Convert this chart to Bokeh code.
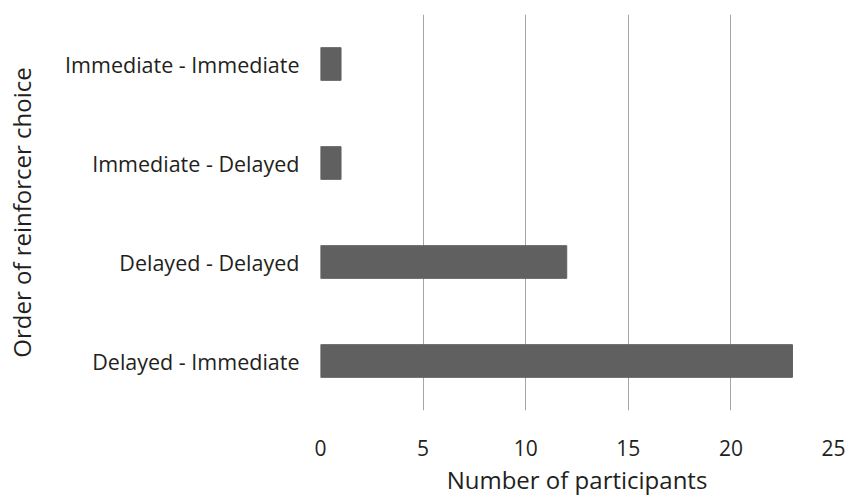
from bokeh.plotting import figure
from bokeh.models import Range1d, FactorRange, Title
from bokeh.embed import file_html
from bokeh.resources import INLINE

categories = ["Delayed - Immediate", "Delayed - Delayed", "Immediate - Delayed", "Immediate - Immediate"]
counts = [23, 12, 1, 1]
x_ticks = [0, 5, 10, 15, 20, 25]

FONT = "Open Sans"
TXT = "#231f20"

p = figure(width=846, height=497, output_backend="svg", toolbar_location=None,
           x_range=Range1d(0, 25), y_range=FactorRange(factors=categories))
p.min_border_left = 320
p.min_border_right = 13
p.min_border_top = 14
p.min_border_bottom = 86
p.outline_line_color = None

p.hbar(y=categories, right=counts, left=0, height=0.33, color="#5f605f")

p.xgrid.grid_line_color = "#a6a6a6"
p.xgrid.grid_line_width = 1
p.xgrid.ticker = x_ticks
p.ygrid.grid_line_color = None

p.xaxis.ticker = x_ticks
p.xaxis.axis_line_color = None
p.xaxis.major_tick_line_color = None
p.xaxis.minor_tick_line_color = None
p.xaxis.major_tick_out = 0
p.xaxis.major_label_standoff = 29
p.xaxis.major_label_text_font = FONT
p.xaxis.major_label_text_font_size = "21px"
p.xaxis.major_label_text_color = TXT
p.xaxis.major_label_text_line_height = 0.8

p.yaxis.axis_line_color = None
p.yaxis.major_tick_line_color = None
p.yaxis.major_tick_out = 0
p.yaxis.major_label_standoff = 21
p.yaxis.major_label_text_font = FONT
p.yaxis.major_label_text_font_size = "21.5px"
p.yaxis.major_label_text_color = TXT
p.yaxis.axis_label = "Order of reinforcer choice"
p.yaxis.axis_label_text_font = FONT
p.yaxis.axis_label_text_font_size = "24px"
p.yaxis.axis_label_text_font_style = "normal"
p.yaxis.axis_label_text_color = TXT
p.yaxis.axis_label_standoff = 24

t = Title(text="Number of participants", align="center", offset=-26,
          text_font=FONT, text_font_size="24px", text_font_style="normal",
          text_color=TXT, standoff=4, text_line_height=0.45)
p.add_layout(t, "below")

open("out.html", "w").write(file_html(p, INLINE))
